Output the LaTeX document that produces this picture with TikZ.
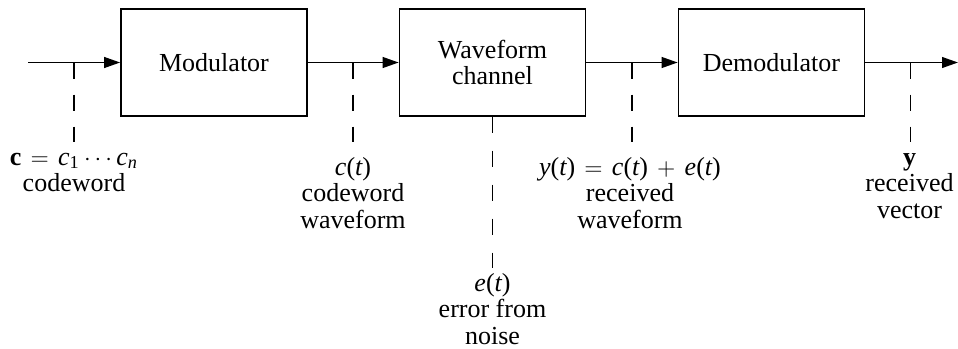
\documentclass[tikz,border=0pt]{standalone}
\usepackage{fontspec}
\setmainfont{Liberation Serif}
\usetikzlibrary{arrows.meta}

\newcommand{\gapop}[1]{\hspace{4.6pt}#1\hspace{4.6pt}}
\newcommand{\diagfont}{\fontsize{13}{13.2}\selectfont
  \lineskiplimit=-20pt\relax\lineskip=0pt\relax}

\tikzset{
  blk/.style={draw, line width=0.85pt, minimum width=93pt, minimum height=53.3pt, inner sep=0pt, align=center},
  sig/.style={line width=0.85pt, -{Triangle[length=8pt,width=5.4pt]}},
  tick/.style={line width=0.7pt, dash pattern=on 8pt off 8pt},
  lbl/.style={anchor=north, inner sep=0pt, align=center},
}

\begin{document}
\begin{tikzpicture}[x=0.5pt, y=-0.5pt, font=\diagfont]
  \useasboundingbox (0,0) rectangle (958,348);

  % processing blocks
  \node[blk] (mod)   at (214,62.5)   {Modulator};
  \node[blk] (chan)  at (492.5,62.5) {Waveform\\channel};
  \node[blk] (demod) at (771.5,62.5) {Demodulator};

  % signal path
  \coordinate (in)  at (28,62.5);
  \coordinate (out) at (958,62.5);
  \draw[sig] (in) -- (mod.west);
  \draw[sig] (mod.east) -- (chan.west);
  \draw[sig] (chan.east) -- (demod.west);
  \draw[sig] (demod.east) -- (out);

  % observation points on the path
  \coordinate (ta) at (74,62.5);    \coordinate (ta-end) at (74,142);
  \coordinate (tb) at (353,62.5);   \coordinate (tb-end) at (353,142);
  \coordinate (tc) at (632,62.5);   \coordinate (tc-end) at (632,142);
  \coordinate (td) at (910.5,62.5); \coordinate (td-end) at (910.5,142);
  \coordinate (noise-end) at (492.5,268);

  \draw[tick] (ta) -- (ta-end);
  \draw[tick] (tb) -- (tb-end);
  \draw[tick] (tc) -- (tc-end);
  \draw[tick] (td) -- (td-end);
  \draw[tick, dash pattern=on 8pt off 9pt] (chan.south) -- (noise-end);

  % signal labels
  \node[lbl] (la) at (74,152.5)
    {{\bfseries c}\gapop{$=$}{\itshape c}\textsubscript{1}\,$\cdots$\,{\itshape c}\textsubscript{\itshape n}\\codeword};
  \node[lbl] (lb) at (353,157)
    {{\itshape c}({\itshape t})\\codeword\\waveform};
  \node[lbl] (lc) at (630,157)
    {{\itshape y}({\itshape t})\gapop{$=$}{\itshape c}({\itshape t})\gapop{$+$}{\itshape e}({\itshape t})\\received\\waveform};
  \node[lbl] (ld) at (909.5,153)
    {{\bfseries y}\\received\\vector};
  \node[lbl] (le) at (492.5,273)
    {{\itshape e}({\itshape t})\\error from\\noise};
\end{tikzpicture}
\end{document}
